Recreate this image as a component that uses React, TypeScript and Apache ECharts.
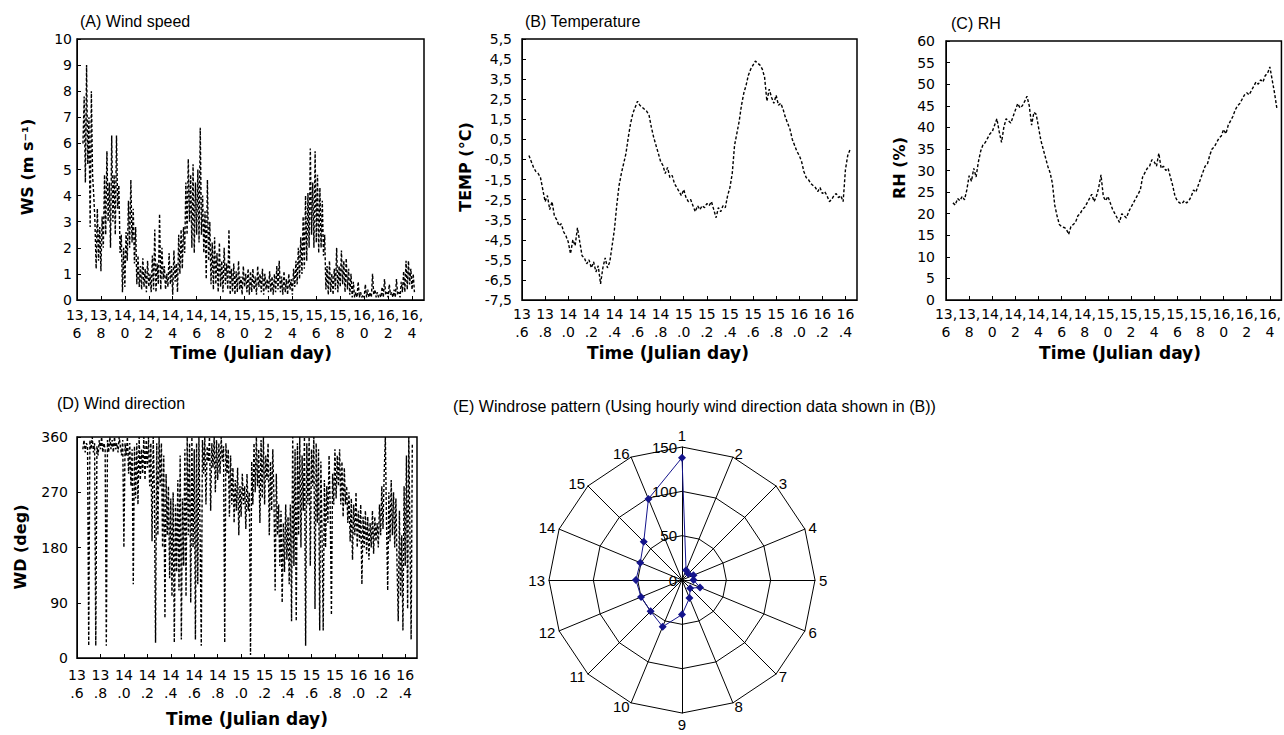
import React, { useEffect, useRef } from "react";
import * as echarts from "echarts";

// ---------- DATA ----------
// (A) Wind speed, m/s, sampled every 0.01 day from 13.65
const WS_START = 13.65;
const WS_STEP = 0.01;
const wsValues = [
  6.0, 7.8, 4.5, 9.0, 5.2, 7.0, 2.8, 8.0, 4.8, 4.0,
  3.0, 1.2, 3.5, 1.5, 2.8, 1.1, 3.2, 2.0, 4.8, 2.5,
  5.7, 3.0, 4.5, 2.0, 6.3, 3.0, 4.8, 2.5, 6.3, 3.5,
  4.4, 1.8, 2.5, 0.3, 2.0, 0.5, 2.6, 1.5, 3.8, 2.0,
  4.6, 2.2, 3.5, 1.4, 2.8, 0.6, 1.7, 0.5, 1.3, 0.4,
  1.6, 0.5, 1.2, 0.3, 1.5, 0.5, 1.0, 0.3, 1.7, 0.4,
  2.7, 0.3, 1.4, 0.6, 3.3, 0.4, 2.0, 0.8, 1.3, 0.4,
  1.0, 0.5, 1.8, 0.6, 1.3, 0.2, 1.9, 0.7, 1.4, 0.3,
  2.5, 1.0, 2.7, 1.2, 2.8, 1.8, 4.5, 2.5, 5.4, 3.0,
  4.8, 2.0, 5.2, 1.8, 4.5, 2.5, 5.0, 2.2, 6.6, 2.5,
  4.0, 1.8, 3.4, 0.8, 4.6, 1.5, 3.0, 0.6, 2.2, 0.4,
  2.4, 0.6, 1.8, 0.3, 2.2, 0.5, 1.5, 0.3, 2.0, 0.6,
  1.4, 0.4, 2.7, 0.2, 1.2, 0.3, 1.4, 0.2, 1.1, 0.3,
  1.5, 0.4, 0.9, 0.2, 1.3, 0.5, 1.0, 0.3, 1.2, 0.2,
  1.1, 0.3, 1.2, 0.4, 0.9, 0.2, 1.3, 0.5, 1.0, 0.3,
  1.2, 0.2, 1.0, 0.4, 0.8, 0.3, 1.1, 0.3, 0.9, 0.2,
  1.0, 0.3, 1.3, 0.4, 1.5, 0.3, 0.9, 0.2, 1.1, 0.3,
  0.8, 0.2, 1.0, 0.4, 0.8, 0.2, 1.2, 0.5, 1.5, 0.6,
  2.0, 0.8, 2.4, 1.0, 3.2, 1.2, 4.0, 1.5, 4.1, 2.0,
  5.8, 2.5, 4.5, 2.0, 5.7, 2.2, 4.8, 1.8, 4.3, 2.0,
  3.8, 1.7, 2.5, 0.4, 1.3, 0.2, 1.5, 0.3, 1.0, 0.2,
  1.2, 0.4, 2.0, 0.3, 1.3, 0.5, 1.9, 0.6, 1.5, 0.3,
  1.6, 0.4, 1.2, 0.2, 1.0, 0.1, 0.7, 0.1, 0.3, 0.1,
  0.7, 0.1, 0.3, 0.1, 0.2, 0.1, 0.6, 0.1, 0.4, 0.1,
  0.3, 0.1, 1.0, 0.2, 0.4, 0.1, 0.3, 0.1, 0.2, 0.1,
  0.5, 0.1, 0.8, 0.2, 0.3, 0.1, 0.6, 0.2, 0.3, 0.1,
  0.4, 0.1, 0.8, 0.2, 0.3, 0.1, 0.7, 0.3, 1.1, 0.3,
  1.5, 0.4, 1.5, 0.6, 1.2, 0.4, 1.0, 0.3,
];

// (B) Temperature, deg C, every 0.02 day from 13.66
const TEMP_START = 13.66;
const TEMP_STEP = 0.02;
const tempValues = [
  -0.3, -0.6, -0.9, -1.1, -1.2, -1.4, -2.0, -2.6, -2.3, -3.0,
  -2.6, -3.3, -3.5, -3.8, -3.7, -4.1, -4.3, -4.6, -5.2, -4.5,
  -4.8, -3.9, -4.6, -5.3, -5.4, -5.7, -5.5, -5.9, -5.6, -6.1,
  -5.8, -6.7, -5.9, -5.4, -5.9, -5.6, -4.8, -4.0, -2.8, -1.8,
  -1.2, -0.7, -0.2, 0.6, 1.3, 1.8, 2.1, 2.4, 2.2, 2.1,
  2.0, 1.9, 1.7, 1.1, 0.6, 0.2, -0.2, -0.6, -0.8, -1.2,
  -0.9, -1.4, -1.3, -1.7, -1.9, -2.1, -2.3, -2.0, -2.4, -2.6,
  -2.5, -2.8, -3.1, -2.8, -3.0, -2.8, -2.9, -2.7, -2.8, -2.6,
  -3.0, -3.4, -2.9, -3.1, -2.8, -2.9, -2.3, -1.9, -1.2, 0.2,
  0.8, 1.4, 2.2, 2.8, 3.2, 3.7, 4.0, 4.2, 4.4, 4.3,
  4.2, 4.0, 3.6, 2.4, 3.0, 2.6, 2.3, 2.7, 2.2, 2.3,
  2.0, 1.6, 1.3, 1.0, 0.5, 0.2, -0.1, -0.3, -0.6, -1.1,
  -1.4, -1.5, -1.7, -1.8, -1.9, -2.1, -1.9, -2.2, -2.1, -2.3,
  -2.6, -2.5, -2.3, -2.2, -2.4, -2.3, -2.6, -1.0, -0.3, 0.0,
];

// (C) Relative humidity, %, every 0.02 day from 13.66
const RH_START = 13.66;
const RH_STEP = 0.02;
const rhValues = [
  22.5, 22.0, 23.5, 23.0, 24.0, 23.2, 25.5, 28.8, 27.5, 30.5,
  28.5, 32.0, 34.5, 36.0, 36.5, 37.5, 38.5, 39.0, 40.5, 42.0,
  39.0, 36.5, 40.0, 42.0, 41.5, 41.0, 42.5, 44.0, 45.5, 44.5,
  45.0, 46.0, 47.2, 45.0, 40.5, 43.5, 43.0, 40.0, 37.0, 35.0,
  33.0, 31.0, 29.5, 27.0, 22.0, 19.5, 17.5, 17.0, 16.8, 16.5,
  15.2, 17.0, 17.5, 18.0, 19.5, 20.0, 21.0, 21.5, 22.5, 23.5,
  24.5, 22.8, 24.0, 26.0, 29.0, 24.0, 23.0, 24.0, 22.5, 21.0,
  20.0, 19.0, 18.0, 20.0, 19.5, 19.0, 20.5, 21.5, 22.5, 23.5,
  24.5, 25.5, 28.5, 29.5, 30.5, 31.0, 32.5, 32.0, 31.0, 34.0,
  30.5, 31.0, 30.0, 30.5, 28.5, 26.5, 24.0, 23.0, 22.5, 22.3,
  23.0, 22.5, 23.0, 24.0, 25.5, 25.0, 26.5, 28.0, 29.5, 31.0,
  31.5, 33.5, 35.0, 35.5, 36.5, 37.5, 38.0, 39.5, 38.5, 40.5,
  41.5, 42.5, 44.0, 45.0, 45.5, 46.5, 47.5, 48.0, 47.5, 48.5,
  49.5, 50.5, 50.0, 51.0, 50.5, 52.0, 52.5, 54.0, 51.0, 48.0,
  44.5,
];

// (D) Wind direction, deg, every 0.01 day from 13.65
const WD_START = 13.65;
const WD_STEP = 0.01;
const wdValues = [
  340, 355, 335, 350, 345, 20, 355, 340, 360, 335,
  350, 20, 345, 330, 355, 340, 360, 335, 350, 340,
  20, 355, 335, 360, 340, 355, 335, 360, 340, 350,
  335, 360, 345, 330, 355, 180, 350, 330, 360, 300,
  350, 280, 340, 120, 345, 260, 350, 250, 360, 290,
  340, 300, 360, 290, 355, 310, 360, 280, 350, 190,
  360, 270, 25, 350, 200, 360, 280, 350, 180, 330,
  65, 300, 200, 280, 130, 260, 100, 270, 25, 250,
  140, 290, 110, 330, 30, 260, 150, 340, 100, 360,
  200, 350, 90, 360, 180, 340, 30, 350, 120, 360,
  200, 20, 355, 300, 360, 250, 345, 320, 360, 240,
  350, 310, 360, 270, 355, 290, 350, 300, 360, 320,
  345, 25, 350, 300, 340, 230, 330, 250, 310, 220,
  290, 240, 310, 200, 280, 230, 300, 250, 280, 210,
  300, 240, 270, 5, 320, 250, 350, 270, 360, 280,
  340, 220, 355, 260, 360, 250, 330, 290, 350, 200,
  320, 240, 340, 260, 110, 300, 200, 250, 150, 240,
  90, 220, 140, 250, 160, 230, 120, 250, 60, 360,
  150, 340, 60, 350, 200, 360, 180, 330, 240, 360,
  20, 350, 250, 360, 150, 340, 280, 360, 80, 350,
  220, 340, 45, 320, 200, 45, 290, 180, 280, 220,
  330, 240, 70, 300, 250, 340, 260, 330, 280, 340,
  250, 320, 230, 310, 250, 280, 220, 270, 190, 260,
  160, 250, 200, 270, 180, 240, 190, 250, 120, 230,
  180, 240, 170, 230, 160, 220, 180, 240, 170, 230,
  190, 220, 180, 250, 200, 280, 210, 300, 360, 220,
  110, 270, 190, 290, 200, 270, 180, 260, 150, 60,
  240, 100, 200, 45, 280, 150, 330, 80, 360, 200,
  30, 350,
];

// (E) Windrose: counts per direction sector 1..16 (1 = N, clockwise)
const windDirections = ["1", "2", "3", "4", "5", "6", "7", "8", "9", "10", "11", "12", "13", "14", "15", "16"];
const windCounts = [138, 12, 10, 14, 13, 22, 13, 22, 39, 57, 50, 50, 52, 51, 61, 99];

const TEMP_OFFSET = 7.5; // temperature axis runs -7.5 .. 5.5

// ---------- HELPERS ----------
const toPairs = (start: number, step: number, vals: number[], shift = 0) =>
  vals.map((v, i) => [Math.round((start + i * step) * 1000) / 1000, v + shift]);

const SANS = '"Liberation Sans", Arial, sans-serif';
const DEJA = '"DejaVu Sans", sans-serif';

const fmtComma = (v: number) => {
  if (v > 16.45) return "";
  const d = Math.floor(v + 1e-6);
  const f = Math.round((v - d) * 10);
  return `${d},\n${f}`;
};
const fmtDot = (v: number) => {
  if (v > 16.45) return "";
  const d = Math.floor(v + 1e-6);
  const f = Math.round((v - d) * 10);
  return `${d}\n.${f}`;
};

const mkX = (gridIndex: number, formatter: (v: number) => string, margin: number) => ({
  type: "value",
  gridIndex,
  min: 13.6,
  max: 16.5,
  interval: 0.2,
  axisLine: { lineStyle: { color: "#000", width: 1 } },
  axisTick: { inside: true, length: 4, lineStyle: { color: "#000" } },
  splitLine: { show: false },
  axisLabel: {
    formatter,
    color: "#000",
    fontSize: 14,
    fontFamily: DEJA,
    lineHeight: 18,
    margin,
    showMaxLabel: false,
  },
});

const mkY = (gridIndex: number, min: number, max: number, interval: number, margin: number, formatter?: any) => ({
  type: "value",
  gridIndex,
  min,
  max,
  interval,
  axisLine: { show: true, lineStyle: { color: "#000", width: 1 } },
  axisTick: { show: true, inside: true, length: 4, lineStyle: { color: "#000" } },
  splitLine: { show: false },
  axisLabel: { color: "#000", fontSize: 14, fontFamily: DEJA, margin, formatter },
});

const lineSeries = (idx: number, data: number[][]) => ({
  type: "line",
  xAxisIndex: idx,
  yAxisIndex: idx,
  data,
  showSymbol: false,
  symbol: "none",
  lineStyle: { color: "#000", width: 1.4, type: [3, 2] },
  z: 3,
});

const txt = (text: string, x: number, y: number, opts: any = {}) => ({
  type: "text",
  x,
  y,
  rotation: opts.rotation || 0,
  style: {
    text,
    fill: "#000",
    fontSize: opts.fontSize || 16,
    fontFamily: opts.fontFamily || SANS,
    fontWeight: opts.fontWeight || "normal",
    textAlign: opts.align || "left",
    textVerticalAlign: "middle",
    align: opts.align || "left",
    verticalAlign: "middle",
  },
});

export default function App() {
  const ref = useRef<HTMLDivElement>(null);

  useEffect(() => {
    if (!ref.current) return;
    const chart = echarts.init(ref.current, undefined, { renderer: "svg" });

    // radar order: ECharts lays indicators counter-clockwise, so list 1,16,15,...,2
    const order = [0, ...Array.from({ length: 15 }, (_, k) => 15 - k)];
    const radarIndicators = order.map((i) => ({ name: windDirections[i], min: 0, max: 150 }));
    const radarValues = order.map((i) => windCounts[i]);

    const option: any = {
      animation: false,
      backgroundColor: "#fff",
      grid: [
        { left: 77, top: 39, width: 347, height: 261, show: true, borderColor: "#000", borderWidth: 1.5, backgroundColor: "transparent" },
        { left: 522, top: 39, width: 335, height: 261, show: true, borderColor: "#000", borderWidth: 1.5, backgroundColor: "transparent" },
        { left: 946, top: 41, width: 342, height: 259, show: true, borderColor: "#000", borderWidth: 1.5, backgroundColor: "transparent" },
        { left: 77, top: 437, width: 340, height: 221, show: true, borderColor: "#000", borderWidth: 1.5, backgroundColor: "transparent" },
      ],
      xAxis: [mkX(0, fmtComma, 6), mkX(1, fmtDot, 5), mkX(2, fmtComma, 5), mkX(3, fmtDot, 8)],
      yAxis: [
        mkY(0, 0, 10, 1, 5),
        mkY(1, 0, 13, 1, 10, (v: number) => (v - TEMP_OFFSET).toFixed(1).replace(".", ",")),
        mkY(2, 0, 60, 5, 11),
        mkY(3, 0, 360, 90, 9),
      ],
      radar: {
        center: [682, 580],
        radius: 133,
        startAngle: 90,
        shape: "polygon",
        splitNumber: 3,
        indicator: radarIndicators,
        nameGap: 4,
        axisName: { color: "#000", fontSize: 15, fontFamily: SANS },
        splitLine: { lineStyle: { color: "#000", width: 1 } },
        splitArea: { show: false },
        axisLine: { lineStyle: { color: "#000", width: 1 } },
      },
      polar: { center: [682, 580], radius: 133 },
      angleAxis: { startAngle: 90, show: false, min: 0, max: 360 },
      radiusAxis: {
        min: 0,
        max: 150,
        interval: 50,
        axisLine: { show: false },
        axisTick: { show: false },
        splitLine: { show: false },
        axisLabel: { color: "#000", fontSize: 15, fontFamily: SANS, margin: 5 },
        z: 5,
      },
      series: [
        lineSeries(0, toPairs(WS_START, WS_STEP, wsValues)),
        lineSeries(1, toPairs(TEMP_START, TEMP_STEP, tempValues, TEMP_OFFSET)),
        lineSeries(2, toPairs(RH_START, RH_STEP, rhValues)),
        lineSeries(3, toPairs(WD_START, WD_STEP, wdValues)),
        {
          type: "radar",
          symbol: "diamond",
          symbolSize: 8,
          itemStyle: { color: "#14148c" },
          lineStyle: { color: "#14148c", width: 1 },
          data: [{ value: radarValues, name: "Windrose" }],
          z: 4,
        },
      ],
      graphic: [
        txt("(A) Wind speed", 80, 21),
        txt("(B) Temperature", 525, 21),
        txt("(C) RH", 951, 23),
        txt("(D) Wind direction", 57, 403),
        txt("(E) Windrose pattern (Using hourly wind direction data shown in (B))", 453, 406),
        txt("Time (Julian day)", 251, 353, { fontFamily: DEJA, fontWeight: "bold", fontSize: 17, align: "center" }),
        txt("Time (Julian day)", 668, 353, { fontFamily: DEJA, fontWeight: "bold", fontSize: 17, align: "center" }),
        txt("Time (Julian day)", 1120, 353, { fontFamily: DEJA, fontWeight: "bold", fontSize: 17, align: "center" }),
        txt("Time (Julian day)", 247, 719, { fontFamily: DEJA, fontWeight: "bold", fontSize: 17, align: "center" }),
        txt("WS (m s\u207B\u00B9)", 27, 167, { fontFamily: DEJA, fontWeight: "bold", fontSize: 16, align: "center", rotation: Math.PI / 2 }),
        txt("TEMP (°C)", 465, 167, { fontFamily: DEJA, fontWeight: "bold", fontSize: 16, align: "center", rotation: Math.PI / 2 }),
        txt("RH (%)", 899, 168, { fontFamily: DEJA, fontWeight: "bold", fontSize: 16, align: "center", rotation: Math.PI / 2 }),
        txt("WD (deg)", 20, 547, { fontFamily: DEJA, fontWeight: "bold", fontSize: 16, align: "center", rotation: Math.PI / 2 }),
      ],
    };

    chart.setOption(option);
    return () => chart.dispose();
  }, []);

  return (
    <div
      ref={ref}
      style={{ position: "absolute", left: 0, top: 0, width: 1284, height: 735, background: "#fff" }}
    />
  );
}
